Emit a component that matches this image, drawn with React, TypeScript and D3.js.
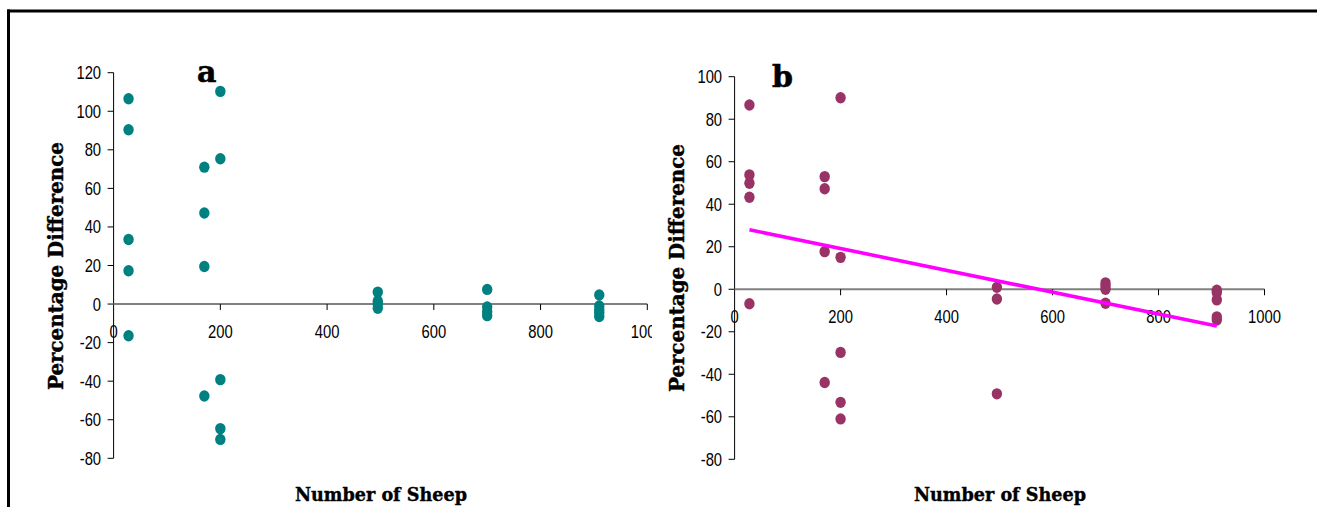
import React from "react";
import * as d3 from "d3";

// ---- Data ----
const xTickValues = [0, 200, 400, 600, 800, 1000];
const yTicksA = [-80, -60, -40, -20, 0, 20, 40, 60, 80, 100, 120];
const yTicksB = [-80, -60, -40, -20, 0, 20, 40, 60, 80, 100];

// Panel a: number of sheep (x) vs percentage difference (y)
const sheepA = [
  28, 28, 28, 28, 28,
  170, 170, 170, 170,
  200, 200, 200, 200, 200,
  495, 495, 495, 495,
  700, 700, 700, 700,
  910, 910, 910, 910, 910,
];
const diffA = [
  106.5, 90.4, 33.5, 17.3, -16.4,
  71, 47.2, 19.5, -47.7,
  110.3, 75.4, -39.2, -64.6, -70.2,
  6.2, 1.5, 0, -2.2,
  7.6, -1.5, -4, -6,
  4.7, -1, -3, -4.5, -6.5,
];

// Panel b
const sheepB = [
  28, 28, 28, 28, 28,
  170, 170, 170, 170,
  200, 200, 200, 200, 200,
  495, 495, 495,
  700, 700, 700, 700,
  910, 910, 910, 910, 910,
];
const diffB = [
  86.7, 53.8, 49.9, 43.3, -6.8,
  53, 47.3, 17.7, -43.9,
  90.1, 15, -29.7, -53.2, -61,
  0.9, -4.6, -49.2,
  3, 1.5, 0, -6.6,
  -0.5, -1.5, -5, -13, -14.5,
];

// Linear trend line in panel b (endpoints as drawn)
const trendX = [28, 910];
const trendY = [28, -17.3];

const TICK_FONT = "'Liberation Sans', Arial, sans-serif";
const TITLE_FONT = "'DejaVu Serif', serif";

type PanelProps = {
  id: string;
  xRange: [number, number];
  yDomain: [number, number];
  yRange: [number, number];
  yTicks: number[];
  xs: number[];
  ys: number[];
  color: string;
  letter: string;
  letterX: number;
  letterY: number;
  yTitleX: number;
  yTitleY: number;
  xTitleX: number;
  clipRight: number;
  trend?: { x: number[]; y: number[] };
};

function Panel(p: PanelProps) {
  const x = d3.scaleLinear().domain([0, 1000]).range(p.xRange);
  const y = d3.scaleLinear().domain(p.yDomain).range(p.yRange);
  const x0 = x(0);
  const y0 = y(0);
  const line = d3
    .line<number>()
    .x((_, i) => x(p.trend!.x[i]))
    .y((d) => y(d));
  return (
    <g>
      <defs>
        <clipPath id={`clip-${p.id}`}>
          <rect x={0} y={0} width={p.clipRight} height={507} />
        </clipPath>
      </defs>
      <g clipPath={`url(#clip-${p.id})`}>
        {/* y axis */}
        <line x1={x0} x2={x0} y1={y(p.yDomain[1])} y2={y(p.yDomain[0])} stroke="#000" strokeWidth={1} />
        {p.yTicks.map((t) => (
          <g key={`yt${t}`}>
            <line x1={x0 - 6} x2={x0} y1={y(t)} y2={y(t)} stroke="#000" strokeWidth={1} />
            <text
              transform={`translate(${x0 - 12.5},${y(t) + 6.5}) scale(0.8,1)`}
              textAnchor="end"
              fontFamily={TICK_FONT}
              fontSize={18.5}
              fill="#000"
            >
              {t}
            </text>
          </g>
        ))}
        {/* x axis at zero */}
        <line x1={x0} x2={x(1000)} y1={y0} y2={y0} stroke="#808080" strokeWidth={2} />
        {xTickValues.map((t) => (
          <g key={`xt${t}`}>
            {t > 0 && (
              <line x1={x(t)} x2={x(t)} y1={y0} y2={y0 + 6} stroke="#000" strokeWidth={1} />
            )}
            <text
              transform={`translate(${x(t)},${y0 + 34}) scale(0.8,1)`}
              textAnchor="middle"
              fontFamily={TICK_FONT}
              fontSize={18.5}
              fill="#000"
            >
              {t}
            </text>
          </g>
        ))}
        {/* points */}
        {p.xs.map((xv, i) => (
          <ellipse key={`pt${i}`} cx={x(xv)} cy={y(p.ys[i])} rx={5.2} ry={5.7} fill={p.color} />
        ))}
        {p.trend && (
          <path d={line(p.trend.y) || ""} fill="none" stroke="#FF00FF" strokeWidth={3.6} />
        )}
        {/* panel letter */}
        <text x={p.letterX} y={p.letterY} fontFamily={TITLE_FONT} fontWeight="bold" fontSize={30} fill="#000" stroke="#000" strokeWidth={0.6}>
          {p.letter}
        </text>
      </g>
      {/* axis titles */}
      <text
        transform={`translate(${p.yTitleX},${p.yTitleY}) rotate(-90)`}
        textAnchor="middle"
        fontFamily={TITLE_FONT}
        fontWeight="bold"
        fontSize={20}
        textLength={248}
        lengthAdjust="spacingAndGlyphs"
        fill="#000"
        stroke="#000"
        strokeWidth={0.4}
      >
        Percentage Difference
      </text>
      <text
        x={p.xTitleX}
        y={501}
        textAnchor="middle"
        fontFamily={TITLE_FONT}
        fontWeight="bold"
        fontSize={18.5}
        textLength={172}
        lengthAdjust="spacingAndGlyphs"
        fill="#000"
        stroke="#000"
        strokeWidth={0.4}
      >
        Number of Sheep
      </text>
    </g>
  );
}

export default function App() {
  return (
    <svg
      width={1317}
      height={507}
      style={{ position: "absolute", left: 0, top: 0, display: "block", background: "#fff" }}
    >
      <rect x={0} y={0} width={1317} height={507} fill="#fff" />
      {/* frame */}
      <line x1={7} x2={1317} y1={11} y2={11} stroke="#000" strokeWidth={3} />
      <line x1={8.5} x2={8.5} y1={9.5} y2={507} stroke="#000" strokeWidth={3} />
      <Panel
        id="a"
        xRange={[113.6, 647.3]}
        yDomain={[-80, 120]}
        yRange={[458.3, 72.7]}
        yTicks={yTicksA}
        xs={sheepA}
        ys={diffA}
        color="#008080"
        letter="a"
        letterX={197}
        letterY={82}
        yTitleX={63}
        yTitleY={266}
        xTitleX={381}
        clipRight={652}
      />
      <Panel
        id="b"
        xRange={[734.6, 1264.5]}
        yDomain={[-80, 100]}
        yRange={[459.3, 76.7]}
        yTicks={yTicksB}
        xs={sheepB}
        ys={diffB}
        color="#993366"
        letter="b"
        letterX={772}
        letterY={87}
        yTitleX={684}
        yTitleY={268}
        xTitleX={1000}
        clipRight={1317}
        trend={{ x: trendX, y: trendY }}
      />
    </svg>
  );
}
